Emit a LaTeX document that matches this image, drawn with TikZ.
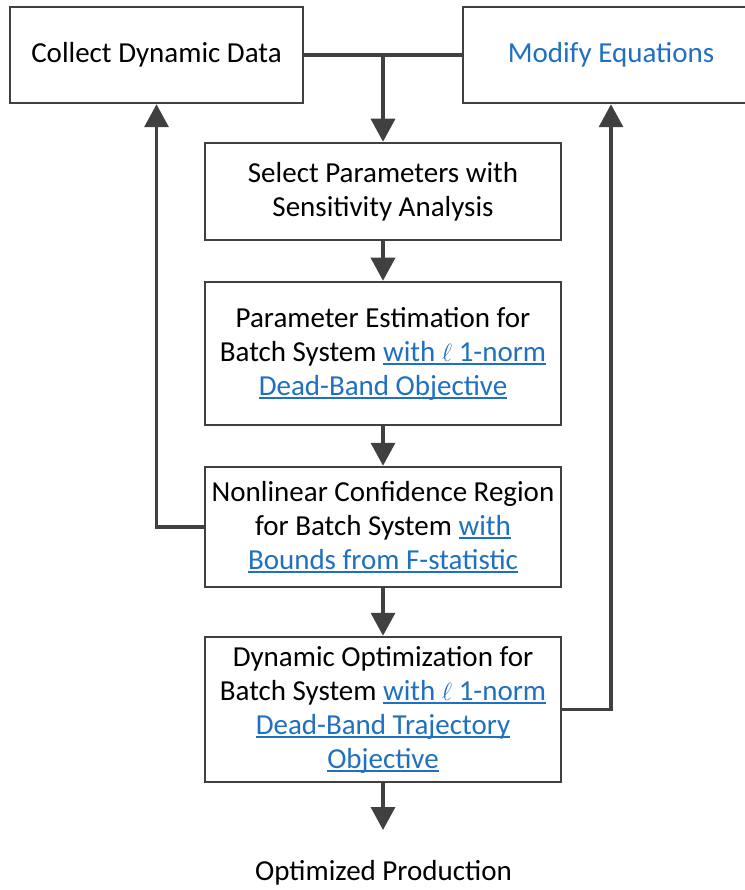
\documentclass[tikz,border=0pt]{standalone}
\usepackage{fontspec}
\setmainfont{Carlito}
\usetikzlibrary{arrows.meta}
\definecolor{linkblue}{RGB}{31,112,192}
\definecolor{linegray}{RGB}{64,64,64}
\newcommand{\lk}[1]{{\color{linkblue}\setbox0\hbox{#1}\rlap{\rule[-4pt]{\wd0}{1.8pt}}\box0}}
\begin{document}
\begin{tikzpicture}[x=1pt,y=-1pt,
  box/.style={draw=linegray, line width=2.5pt, align=center, inner sep=0pt,
    font=\fontsize{29}{34}\selectfont},
  conn/.style={draw=linegray, line width=3.5pt},
  arr/.style={conn, -{Triangle[length=23pt,width=24pt]}}]
\useasboundingbox (0,0) rectangle (744,890);
\node[box, minimum width=293pt, minimum height=96pt] (collect) at (156.5,55) {Collect Dynamic Data};
\node[box, minimum width=296pt, minimum height=96pt, text=linkblue] (modify) at (611,55) {Modify Equations};
\node[box, minimum width=356pt, minimum height=97pt] (select) at (383,191.5) {Select Parameters with\\Sensitivity Analysis};
\node[box, minimum width=356pt, minimum height=143pt] (param) at (383,353.5) {Parameter Estimation for\\Batch System \lk{with $\ell$ 1-norm}\\\lk{Dead-Band Objective}};
\node[box, minimum width=356pt, minimum height=120pt] (nonlin) at (383,527) {Nonlinear Confidence Region\\for Batch System \lk{with}\\\lk{Bounds from F-statistic}};
\node[box, minimum width=356pt, minimum height=145pt] (dynopt) at (383,709.5) {Dynamic Optimization for\\Batch System \lk{with $\ell$ 1-norm}\\\lk{Dead-Band Trajectory}\\\lk{Objective}};
\node[font=\fontsize{29}{34}\selectfont, inner sep=0pt] (out) at (383.5,873) {Optimized Production};
\coordinate (j) at (collect.east -| select.north);
\coordinate (outend) at (383,830);
\draw[conn] (collect.east) -- (modify.west);
\draw[arr] (j) -- (select.north);
\draw[arr] (select.south) -- (param.north);
\draw[arr] (param.south) -- (nonlin.north);
\draw[arr] (nonlin.south) -- (dynopt.north);
\draw[arr] (dynopt.south) -- (outend);
\draw[arr] (nonlin.west) -| (collect.south);
\draw[arr] (dynopt.east) -| (modify.south);
\end{tikzpicture}
\end{document}
